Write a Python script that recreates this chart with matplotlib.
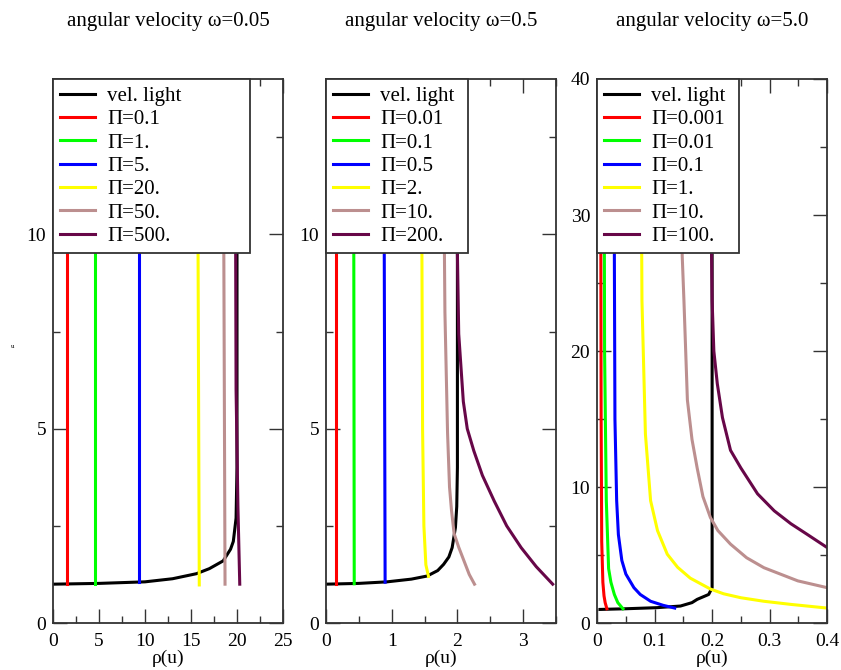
import matplotlib
matplotlib.use("Agg")
from matplotlib import pyplot as plt
from matplotlib.ticker import MultipleLocator, FuncFormatter

plt.rcParams['font.family'] = ['Liberation Serif', 'DejaVu Serif']

# colours of the curves (grace style palette)
colors = ['#000000', '#ff0000', '#00ff00', '#0000ff', '#ffff00', '#bc8f8f', '#670748']

## ============================================================
## omega = 0.05
titles = ['angular velocity \u03c9=0.05', 'angular velocity \u03c9=0.5', 'angular velocity \u03c9=5.0']

labels_a = ['vel. light', '\u03a0=0.1', '\u03a0=1.', '\u03a0=5.', '\u03a0=20.', '\u03a0=50.', '\u03a0=500.']
rho_a = [
    [0, 5, 10, 13, 15.6, 17, 18.5, 19.3, 19.6, 19.9, 20.0, 20.0],
    [1.5, 1.5],
    [4.6, 4.6],
    [9.4, 9.4],
    [15.9, 15.7],
    [18.7, 18.5],
    [20.3, 20.1, 19.9, 19.8],
]
u_a = [
    [1.0, 1.02, 1.06, 1.14, 1.27, 1.4, 1.6, 1.9, 2.1, 2.7, 4.0, 14.0],
    [1.0, 14.0],
    [1.01, 14.0],
    [1.05, 14.0],
    [0.98, 14.0],
    [1.0, 14.0],
    [1.0, 3.0, 6.0, 14.0],
]

## ============================================================
## omega = 0.5
labels_b = ['vel. light', '\u03a0=0.01', '\u03a0=0.1', '\u03a0=0.5', '\u03a0=2.', '\u03a0=10.', '\u03a0=200.']
rho_b = [
    [0, 0.5, 0.93, 1.3, 1.54, 1.7, 1.79, 1.87, 1.92, 1.97, 1.99, 2.0, 2.0],
    [0.15, 0.15],
    [0.43, 0.42],
    [0.90, 0.88],
    [1.56, 1.52, 1.49, 1.47, 1.45],
    [2.26, 2.18, 2.1, 2.02, 1.95, 1.91, 1.88, 1.85, 1.81, 1.78],
    [3.45, 3.2, 2.97, 2.75, 2.56, 2.38, 2.25, 2.15, 2.09, 2.02, 2.0, 1.99],
]
u_b = [
    [1.0, 1.02, 1.06, 1.13, 1.21, 1.35, 1.51, 1.7, 1.94, 2.46, 3.0, 4.0, 14.0],
    [1.0, 14.0],
    [1.01, 14.0],
    [1.05, 14.0],
    [1.2, 1.5, 2.5, 5.0, 14.0],
    [1.0, 1.25, 1.6, 1.95, 2.3, 2.9, 3.5, 4.9, 8.0, 14.0],
    [1.0, 1.45, 1.94, 2.5, 3.14, 3.8, 4.43, 5.0, 5.7, 7.44, 9.5, 14.0],
]

## ============================================================
## omega = 5.0
labels_c = ['vel. light', '\u03a0=0.001', '\u03a0=0.01', '\u03a0=0.1', '\u03a0=1.', '\u03a0=10.', '\u03a0=100.']
rho_c = [
    [0.005, 0.05, 0.104, 0.145, 0.165, 0.174, 0.194, 0.2, 0.2, 0.2],
    [0.017, 0.014, 0.012, 0.01, 0.008, 0.007, 0.006],
    [0.045, 0.036, 0.03, 0.024, 0.02, 0.016, 0.013, 0.012],
    [0.135, 0.115, 0.093, 0.075, 0.064, 0.05, 0.043, 0.037, 0.034, 0.031, 0.030, 0.030],
    [0.4, 0.337, 0.29, 0.25, 0.22, 0.197, 0.162, 0.14, 0.122, 0.105, 0.093, 0.084, 0.078, 0.076],
    [0.4, 0.349, 0.29, 0.26, 0.232, 0.21, 0.197, 0.184, 0.174, 0.165, 0.157, 0.151, 0.148, 0.145],
    [0.4, 0.366, 0.337, 0.308, 0.279, 0.25, 0.232, 0.218, 0.209, 0.203, 0.2, 0.199, 0.198],
]
u_c = [
    [1.0, 1.05, 1.13, 1.25, 1.5, 1.74, 2.1, 2.6, 5.0, 40.0],
    [1.05, 1.5, 2.0, 3.0, 6.0, 15.0, 40.0],
    [1.05, 1.5, 2.1, 3.0, 4.0, 9.0, 20.0, 40.0],
    [1.1, 1.3, 1.6, 2.1, 2.6, 3.6, 4.6, 6.5, 9.0, 15.0, 27.0, 40.0],
    [1.1, 1.37, 1.6, 1.86, 2.15, 2.5, 3.3, 4.1, 5.06, 6.8, 9.0, 13.9, 23.7, 40.0],
    [2.6, 3.1, 4.07, 4.8, 5.8, 6.8, 7.76, 9.3, 11.4, 13.5, 16.4, 23.7, 27.0, 40.0],
    [5.55, 6.5, 7.3, 8.25, 9.5, 11.4, 12.7, 15.1, 17.6, 20.0, 23.7, 27.0, 40.0],
]

fig = plt.figure(figsize=(8.41, 6.70), dpi=100)

lefts = [0.063, 0.3876, 0.710]
xlims = [(0, 25), (0, 3.5), (0, 0.4)]
ylims = [(0, 14), (0, 14), (0, 40)]
xsteps = [(5, 2.5), (1, 0.5), (0.1, 0.05)]
ysteps = [(5, 2.5), (5, 2.5), (10, 5)]
leg_w = [0.857, 0.616, 0.616]


def tick_fmt(v, pos):
    # grace style: plain "0", otherwise shortest form
    if abs(v) < 1e-9:
        return '0'
    return ('%.2f' % v).rstrip('0').rstrip('.')


all_rho = [rho_a, rho_b, rho_c]
all_u = [u_a, u_b, u_c]
all_labels = [labels_a, labels_b, labels_c]

for i in range(3):
    ax = fig.add_axes([lefts[i], 0.0701, 0.2735, 0.812])
    for rho, u, lab, col in zip(all_rho[i], all_u[i], all_labels[i], colors):
        ax.plot(rho, u, color=col, lw=2.2, label=lab, solid_joinstyle='round')
    ax.set_xlim(xlims[i])
    ax.set_ylim(ylims[i])
    ax.xaxis.set_major_locator(MultipleLocator(xsteps[i][0]))
    ax.xaxis.set_minor_locator(MultipleLocator(xsteps[i][1]))
    ax.yaxis.set_major_locator(MultipleLocator(ysteps[i][0]))
    ax.yaxis.set_minor_locator(MultipleLocator(ysteps[i][1]))
    ax.xaxis.set_major_formatter(FuncFormatter(tick_fmt))
    ax.yaxis.set_major_formatter(FuncFormatter(tick_fmt))
    ax.tick_params(which='both', direction='in', top=True, right=True,
                   labelsize=14, color='#333333')
    ax.tick_params(which='major', length=10, width=1, pad=5)
    ax.tick_params(which='minor', length=5, width=1)
    ax.tick_params(axis='x', which='major', pad=7)
    for sp in ax.spines.values():
        sp.set_linewidth(1.3)
        sp.set_color('#333333')
    ax.set_xlabel('\u03c1(u)', fontsize=14, labelpad=0)
    ax.set_title(titles[i], fontsize=15, pad=38)
    leg = ax.legend(loc='upper left', bbox_to_anchor=(0, 1, leg_w[i], 0),
                    mode='expand', borderaxespad=0, fontsize=15,
                    handlelength=1.65, handletextpad=0.6, labelspacing=0.18,
                    borderpad=0.35, fancybox=False, framealpha=1,
                    edgecolor='#333333')
    leg.get_frame().set_linewidth(1.3)

# tiny leftover axis label on the left
fig.text(13 / 841, 1 - 347 / 670, 'u', fontsize=5, ha='center', va='center')

plt.savefig("out.png", dpi=100)
